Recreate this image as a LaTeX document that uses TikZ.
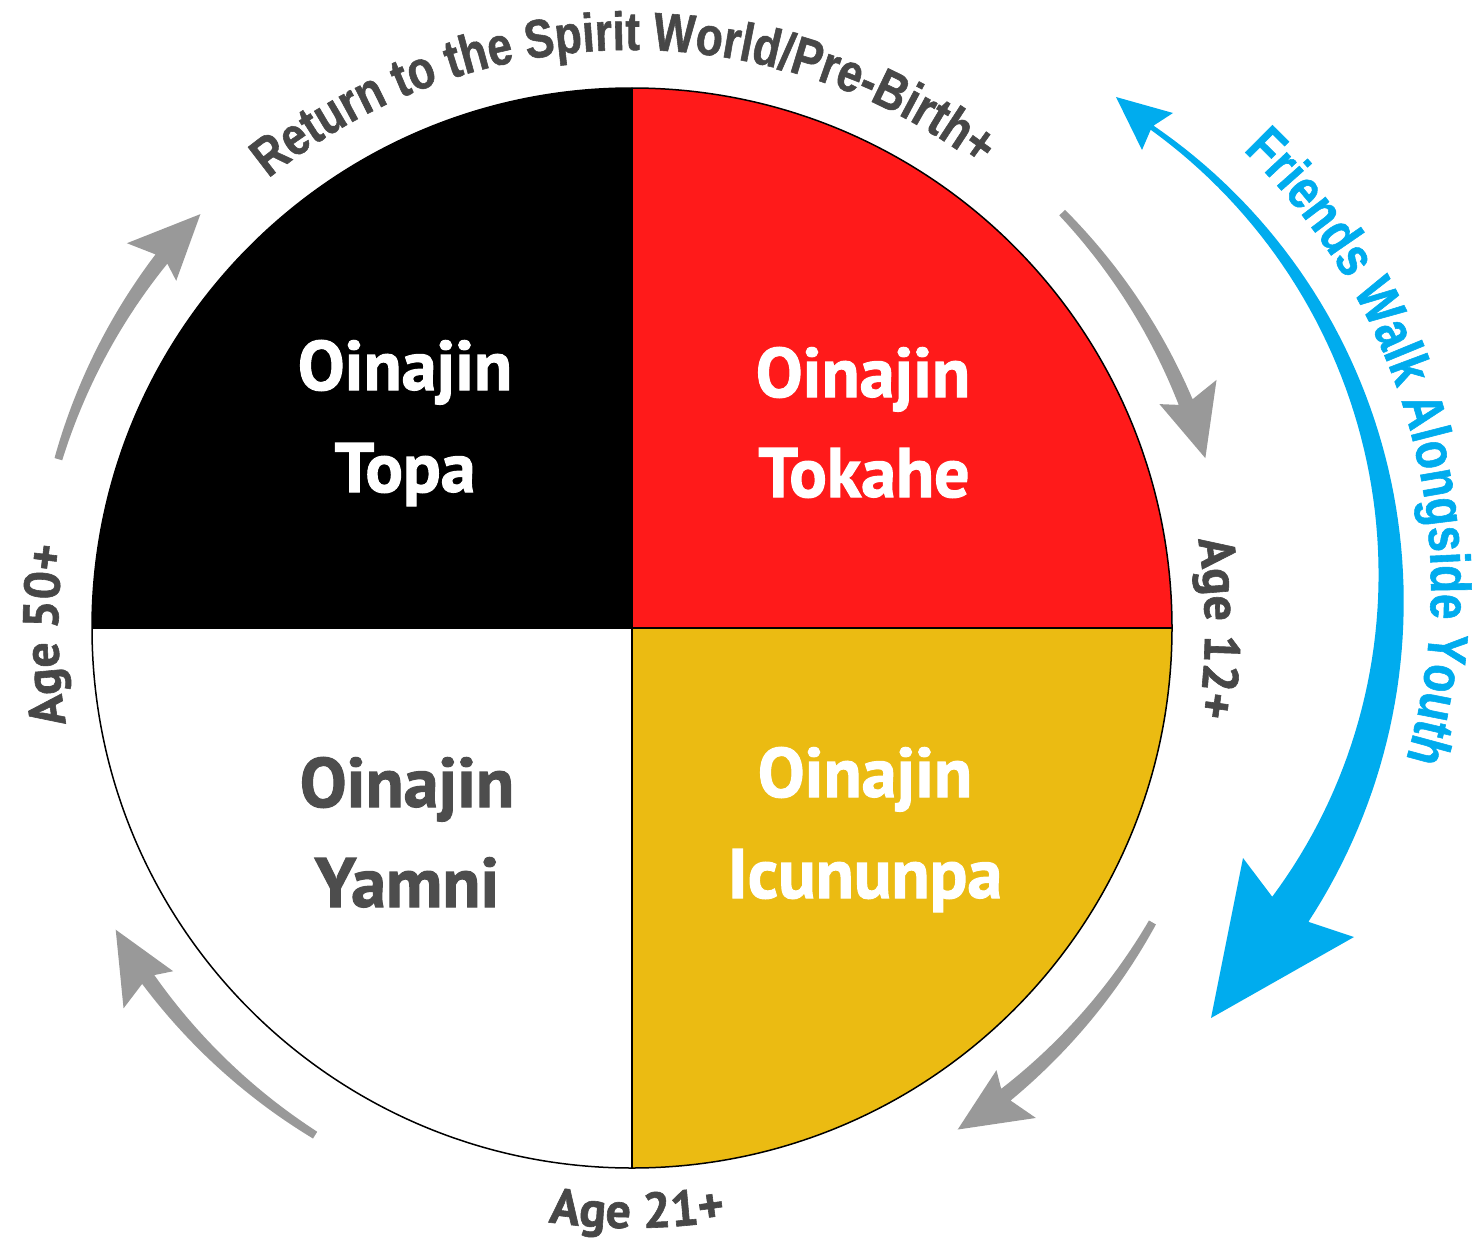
\documentclass[tikz,border=0pt]{standalone}
\usepackage{fontspec}
\usetikzlibrary{calc,decorations.text}
\newfontfamily\labfont{PT Sans}[UprightFont=* Bold, FakeBold=1.5]
\newfontfamily\agefont{PT Sans}[UprightFont=* Bold, FakeBold=1.2]
\newfontfamily\narrowfont{Liberation Sans}[UprightFont=* Bold, FakeStretch=0.82, FakeBold=1]
\definecolor{wred}{HTML}{FF1A1A}
\definecolor{wyellow}{HTML}{EBBB12}
\definecolor{wblue}{HTML}{00ACEE}
\definecolor{agray}{HTML}{999999}
\definecolor{tgray}{HTML}{474747}
\definecolor{ygray}{HTML}{4D4D4D}
\newcommand\grayarrow[2]{%
  \pgfmathsetmacro\hb{#2+6.5}%
  \pgfmathsetmacro\hn{#2+5.7}%
  \fill[agray] plot[domain=#1:\hn, samples=40] ({632+(598+(4+3.5*(#1-\x)/(#1-\hn)))*cos(\x)}, {-628+(598+(4+3.5*(#1-\x)/(#1-\hn)))*sin(\x)})
    -- ($(C)+(\hb:635)$) -- ($(C)+(#2:598)$) -- ($(C)+(\hb:573)$)
    -- plot[domain=\hn:#1, samples=40] ({632+(598-(4+3.5*(#1-\x)/(#1-\hn)))*cos(\x)}, {-628+(598-(4+3.5*(#1-\x)/(#1-\hn)))*sin(\x)})
    -- cycle;}
\begin{document}
\begin{tikzpicture}[x=1pt,y=1pt,
  qlab/.style={font=\labfont\fontsize{70}{80}\selectfont, anchor=base, inner sep=0pt}]
\useasboundingbox (0,0) rectangle (1476,-1239);
\coordinate (C) at (632,-628);
\coordinate (B) at (828,-588);
\def\R{540}
% quadrants
\fill[black] (C) -- ($(C)+(180:\R)$) arc[start angle=180,end angle=90,radius=\R pt] -- cycle;
\fill[wred] (C) -- ($(C)+(90:\R)$) arc[start angle=90,end angle=0,radius=\R pt] -- cycle;
\fill[wyellow] (C) -- ($(C)+(0:\R)$) arc[start angle=0,end angle=-90,radius=\R pt] -- cycle;
\draw[line width=1.5pt] (C) circle[radius=\R pt];
\draw[line width=1.3pt] ($(C)+(90:\R)$) -- ($(C)+(-90:\R)$);
\draw[line width=1.3pt] ($(C)+(180:\R)$) -- ($(C)+(0:\R)$);
% quadrant labels
\node[qlab, text=white] (t1a) at (405,-390) {Oinajin};
\node[qlab, text=white] (t1b) at (405,-492) {Topa};
\node[qlab, text=white] (t2a) at (863,-397) {Oinajin};
\node[qlab, text=white] (t2b) at (864,-497) {Tokahe};
\node[qlab, text=ygray] (t3a) at (407,-807) {Oinajin};
\node[qlab, text=ygray] (t3b) at (407,-907) {Yamni};
\node[qlab, text=white] (t4a) at (865,-797) {Oinajin};
\node[qlab, text=white] (t4b) at (865,-898) {Icununpa};
% gray arrows
\grayarrow{163.6}{136.2}
\grayarrow{44}{16.5}
\grayarrow{-29.5}{-57}
\grayarrow{238}{210.3}
% blue arrow
\fill[wblue]
  plot[domain=54.85:-34.8, samples=70] ({828+(563+(5+39*((54.85-\x)/89.65)*(0.6+0.4*((54.85-\x)/89.65)))/2)*cos(\x)}, {-588+(563+(5+39*((54.85-\x)/89.65)*(0.6+0.4*((54.85-\x)/89.65)))/2)*sin(\x)})
  -- (1354,-937) -- (1211,-1018) -- (1243,-858)
  -- plot[domain=-34.8:54.85, samples=70] ({828+(563-(5+39*((54.85-\x)/89.65)*(0.6+0.4*((54.85-\x)/89.65)))/2)*cos(\x)}, {-588+(563-(5+39*((54.85-\x)/89.65)*(0.6+0.4*((54.85-\x)/89.65)))/2)*sin(\x)})
  -- (1142,-150) -- (1116,-97) -- (1173,-113) -- cycle;
% curved texts
\path[decorate, decoration={text along path, text={|\narrowfont\fontsize{54}{60}\selectfont|Return to the Spirit World/Pre-Birth+}, text color=tgray, text align=center}]
  ($(C)+(136:578)$) arc[start angle=136,end angle=46,radius=578pt];
\path[decorate, decoration={text along path, text={|\narrowfont\fontsize{56}{60}\selectfont|Friends Walk Alongside Youth}, text color=wblue, text align=center}]
  ($(B)+(61:603)$) arc[start angle=61,end angle=-31,radius=603pt];
\path[decorate, decoration={text along path, text={|\agefont\fontsize{50}{60}\selectfont|Age 12+}, text color=tgray, text align=center}]
  ($(C)+(20:573)$) arc[start angle=20,end angle=-20,radius=573pt];
\path[decorate, decoration={text along path, text={|\agefont\fontsize{50}{60}\selectfont|Age 50+}, text color=tgray, text align=center}]
  ($(C)+(200.7:574)$) arc[start angle=200.7,end angle=160.7,radius=574pt];
\path[decorate, decoration={text along path, text={|\agefont\fontsize{50}{60}\selectfont|Age 21+}, text color=tgray, text align=center}]
  ($(C)+(250:600)$) arc[start angle=250,end angle=291,radius=600pt];
\end{tikzpicture}
\end{document}
